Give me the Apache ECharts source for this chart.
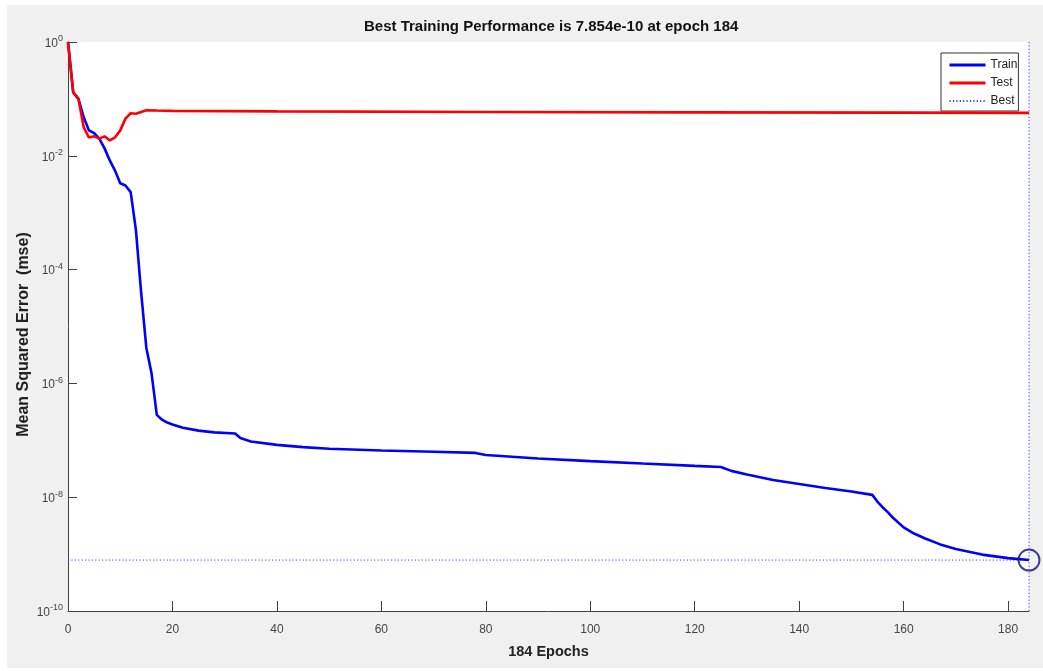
<!DOCTYPE html>
<html>
<head>
<meta charset="utf-8">
<script src="https://cdn.jsdelivr.net/npm/echarts@6/dist/echarts.min.js"></script>
<style>
  html, body { margin: 0; padding: 0; background: #ffffff; }
  #frame { position: absolute; left: 7px; top: 5px; right: 0; bottom: 3px; background: #f0f0f0; }
  #chart { position: absolute; left: 0; top: 0; width: 1043px; height: 671px; }
</style>
</head>
<body>
<div id="frame"></div>
<div id="chart"></div>
<script>
// Training record of the network: mean squared error per epoch
const trainEpochs = [0, 1, 2, 3, 4, 5, 6, 7, 8, 9, 10, 11, 12, 13, 14, 15, 16, 17, 18, 19, 20, 22, 25, 28, 32, 33, 35, 40, 45, 50, 60, 70, 78, 80, 90, 100, 110, 120, 125, 127, 130, 135, 140, 145, 150, 154, 155, 156, 157, 158, 160, 162, 164, 167, 170, 175, 180, 184];
const trainMse = [1, 0.13, 0.10, 0.048, 0.028, 0.025, 0.020, 0.0135, 0.0083, 0.0055, 0.0033, 0.0030, 0.0023, 5e-4, 4e-5, 4.2e-6, 1.5e-6, 2.8e-7, 2.3e-7, 2.05e-7, 1.9e-7, 1.66e-7, 1.48e-7, 1.38e-7, 1.32e-7, 1.1e-7, 9.5e-8, 8.3e-8, 7.6e-8, 7.1e-8, 6.6e-8, 6.3e-8, 6.0e-8, 5.5e-8, 4.8e-8, 4.3e-8, 3.9e-8, 3.55e-8, 3.4e-8, 2.9e-8, 2.5e-8, 2.0e-8, 1.7e-8, 1.45e-8, 1.26e-8, 1.1e-8, 8.3e-9, 6.6e-9, 5.4e-9, 4.3e-9, 2.95e-9, 2.3e-9, 1.9e-9, 1.48e-9, 1.23e-9, 9.8e-10, 8.5e-10, 7.854e-10];

const testEpochs = [0, 1, 2, 3, 4, 5, 6, 7, 8, 9, 10, 11, 12, 13, 14, 15, 17, 20, 40, 80, 120, 160, 184];
const testMse = [1, 0.13, 0.10, 0.032, 0.021, 0.022, 0.020, 0.022, 0.0186, 0.021, 0.028, 0.045, 0.056, 0.055, 0.059, 0.063, 0.0624, 0.0617, 0.0603, 0.0589, 0.058, 0.0573, 0.0569];

const bestEpoch = 184;
const bestPerf = 7.854e-10;

const xTicks = [0, 20, 40, 60, 80, 100, 120, 140, 160, 180];
const yMin = 1e-10;
const yMax = 1;

const pairs = (xs, ys) => xs.map((x, i) => [x, ys[i]]);

const FONT = '"Liberation Sans", Arial, Helvetica, sans-serif';
const AXIS_COLOR = '#404040';
const BEST_COLOR = '#3b3bff';

const chart = echarts.init(document.getElementById('chart'), null, { renderer: 'canvas' });

chart.setOption({
  animation: false,
  backgroundColor: 'transparent',
  textStyle: { fontFamily: FONT },
  title: {
    text: 'Best Training Performance is ' + bestPerf.toExponential(3) + ' at epoch ' + bestEpoch,
    left: 364,
    top: 19,
    padding: 0,
    textStyle: { fontFamily: FONT, fontSize: 15, fontWeight: 'bold', color: '#111' }
  },
  grid: {
    left: 68,
    right: 14,
    top: 42,
    bottom: 60,
    show: true,
    backgroundColor: '#ffffff',
    borderWidth: 0
  },
  legend: {
    data: [
      { name: 'Train', lineStyle: { width: 3 } },
      { name: 'Test', lineStyle: { width: 3 } },
      { name: 'Best' }
    ],
    orient: 'vertical',
    left: 941,
    top: 53,
    padding: [5, 1, 3, 7],
    itemWidth: 36,
    itemHeight: 14,
    itemGap: 4,
    backgroundColor: '#ffffff',
    borderColor: '#333333',
    borderWidth: 1,
    borderRadius: 0,
    itemStyle: { opacity: 0 },
    textStyle: { fontFamily: FONT, fontSize: 12, color: '#222', lineHeight: 14 }
  },
  xAxis: {
    type: 'value',
    min: 0,
    max: bestEpoch,
    interval: 20,
    name: bestEpoch + ' Epochs',
    nameLocation: 'middle',
    nameGap: 33,
    nameTextStyle: { fontFamily: FONT, fontSize: 14.5, fontWeight: 'bold', color: '#222' },
    axisLine: { show: true, onZero: false, lineStyle: { color: AXIS_COLOR, width: 1 } },
    axisTick: { show: true, inside: true, length: 10, customValues: xTicks, lineStyle: { color: AXIS_COLOR } },
    axisLabel: { customValues: xTicks, margin: 13, fontFamily: FONT, fontSize: 12, color: '#444' },
    splitLine: { show: false }
  },
  yAxis: {
    type: 'log',
    logBase: 10,
    min: yMin,
    max: yMax,
    interval: 2,
    name: 'Mean Squared Error  (mse)',
    nameLocation: 'middle',
    nameGap: 36,
    nameMoveOverlap: false,
    nameTextStyle: { fontFamily: FONT, fontSize: 16, fontWeight: 'bold', color: '#222', padding: [0, 16, 0, 0] },
    axisLine: { show: true, lineStyle: { color: AXIS_COLOR, width: 1 } },
    axisTick: { show: true, inside: true, length: 9, lineStyle: { color: AXIS_COLOR } },
    minorTick: { show: false },
    axisLabel: {
      margin: 5,
      formatter: v => '{b|10}{s|' + Math.round(Math.log10(v)) + '}',
      rich: {
        b: { fontFamily: FONT, fontSize: 12, color: '#444', lineHeight: 15, verticalAlign: 'bottom' },
        s: { fontFamily: FONT, fontSize: 9, color: '#444', lineHeight: 9, verticalAlign: 'top' }
      }
    },
    splitLine: { show: false }
  },
  series: [
    {
      name: 'Train',
      type: 'line',
      data: pairs(trainEpochs, trainMse),
      symbol: 'none',
      lineStyle: { color: '#0000ff', width: 2.6 },
      itemStyle: { color: '#0000ff' },
      z: 3
    },
    {
      name: 'Test',
      type: 'line',
      data: pairs(testEpochs, testMse),
      symbol: 'none',
      lineStyle: { color: '#ff0000', width: 2.6 },
      itemStyle: { color: '#ff0000' },
      z: 4
    },
    {
      name: 'Best',
      type: 'line',
      data: [[0, bestPerf], [bestEpoch, bestPerf]],
      symbol: 'none',
      lineStyle: { color: BEST_COLOR, width: 1, type: [1.2, 2.2] },
      itemStyle: { color: BEST_COLOR },
      z: 2
    },
    {
      name: 'Best',
      type: 'line',
      data: [[bestEpoch, yMin], [bestEpoch, yMax]],
      symbol: 'none',
      lineStyle: { color: BEST_COLOR, width: 1, type: [1.2, 2.2] },
      itemStyle: { color: BEST_COLOR },
      z: 2
    },
    {
      name: 'best point',
      type: 'scatter',
      data: [[bestEpoch, bestPerf]],
      symbol: 'circle',
      symbolSize: 21,
      itemStyle: { color: 'rgba(0,0,0,0)', borderColor: '#0b0b8a', borderWidth: 2 },
      z: 5
    }
  ]
});
</script>
</body>
</html>
